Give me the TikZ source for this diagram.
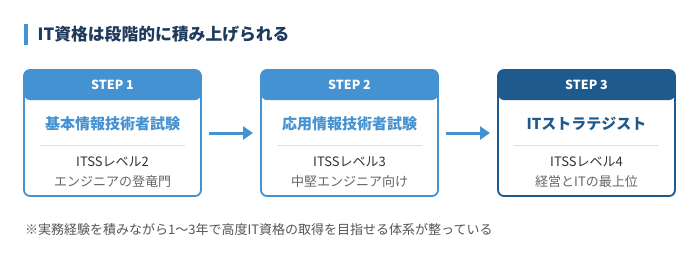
\documentclass[tikz,border=0pt]{standalone}
\usepackage{fontspec}
\setmainfont{Noto Sans CJK JP}
\usetikzlibrary{positioning,arrows.meta,calc}
\definecolor{stepblue}{HTML}{4592D2}
\definecolor{stepnavy}{HTML}{1F5A8D}
\definecolor{titlenavy}{HTML}{1E3A5C}
\definecolor{rulegray}{HTML}{D5E4F2}
\definecolor{textdark}{HTML}{333333}
\definecolor{textgray}{HTML}{666666}
\definecolor{notegray}{HTML}{555555}

\tikzset{
  card/.style={draw=#1, line width=1.8pt, rounded corners=6pt, outer sep=0pt, inner sep=0pt,
    minimum width=177pt, minimum height=126pt,
    path picture={\fill[#1] (path picture bounding box.north west) rectangle
      ([yshift=-30pt]path picture bounding box.north east);}},
  steplabel/.style={text=white, font=\fontsize{12.5}{15}\selectfont\bfseries, inner sep=0pt},
  cardtitle/.style={text=#1, font=\fontsize{15}{18}\selectfont\bfseries, inner sep=0pt},
  levelline/.style={text=textdark, font=\fontsize{13}{16}\selectfont, inner sep=0pt},
  roleline/.style={text=textgray, font=\fontsize{13}{16}\selectfont, inner sep=0pt},
  divider/.style={draw=rulegray, line width=0.8pt},
  flowarrow/.style={draw=stepblue, line width=3pt, -{Triangle[length=10pt,width=13pt]},
    shorten <=8pt, shorten >=8pt}
}

\begin{document}
\begin{tikzpicture}[x=1pt,y=1pt]
    \path[use as bounding box, fill=white] (0,0) rectangle (700,-266);

    % Heading with accent bar
    \fill[stepblue] (24,-23.5) rectangle (28,-44.5);
    \node[text=titlenavy, font=\fontsize{16.8}{20}\selectfont\bfseries, anchor=west, inner sep=0pt]
      (heading) at (37.5,-34) {IT資格は段階的に積み上げられる};

    % === Cards ===
    \node[card=stepblue] (card1) at (112.5,-133) {};
    \node[card=stepblue, right=60pt of card1] (card2) {};
    \node[card=stepnavy, right=60pt of card2] (card3) {};

    % Step 1
    \node[steplabel] (step1) at ([yshift=-15pt]card1.north) {STEP 1};
    \node[cardtitle=stepblue] (name1) at ([yshift=-54pt]card1.north) {基本情報技術者試験};
    \draw[divider] ([xshift=-72.5pt,yshift=-75pt]card1.north) -- ([xshift=72.5pt,yshift=-75pt]card1.north);
    \node[levelline] (level1) at ([yshift=-92pt]card1.north) {ITSSレベル2};
    \node[roleline] (role1) at ([yshift=-112pt]card1.north) {エンジニアの登竜門};

    % Step 2
    \node[steplabel] (step2) at ([yshift=-15pt]card2.north) {STEP 2};
    \node[cardtitle=stepblue] (name2) at ([yshift=-54pt]card2.north) {応用情報技術者試験};
    \draw[divider] ([xshift=-72.5pt,yshift=-75pt]card2.north) -- ([xshift=72.5pt,yshift=-75pt]card2.north);
    \node[levelline] (level2) at ([yshift=-92pt]card2.north) {ITSSレベル3};
    \node[roleline] (role2) at ([yshift=-112pt]card2.north) {中堅エンジニア向け};

    % Step 3
    \node[steplabel] (step3) at ([yshift=-15pt]card3.north) {STEP 3};
    \node[cardtitle=stepnavy] (name3) at ([yshift=-54pt]card3.north) {ITストラテジスト};
    \draw[divider] ([xshift=-72.5pt,yshift=-75pt]card3.north) -- ([xshift=72.5pt,yshift=-75pt]card3.north);
    \node[levelline] (level3) at ([yshift=-92pt]card3.north) {ITSSレベル4};
    \node[roleline] (role3) at ([yshift=-112pt]card3.north) {経営とITの最上位};

    % Arrows between cards
    \draw[flowarrow] (card1.east) -- (card2.west);
    \draw[flowarrow] (card2.east) -- (card3.west);

    % Footnote
    \node[text=notegray, font=\fontsize{13}{16}\selectfont, anchor=west, inner sep=0pt]
      (note) at (25,-230) {※実務経験を積みながら1〜3年で高度IT資格の取得を目指せる体系が整っている};

  \end{tikzpicture}
\end{document}
